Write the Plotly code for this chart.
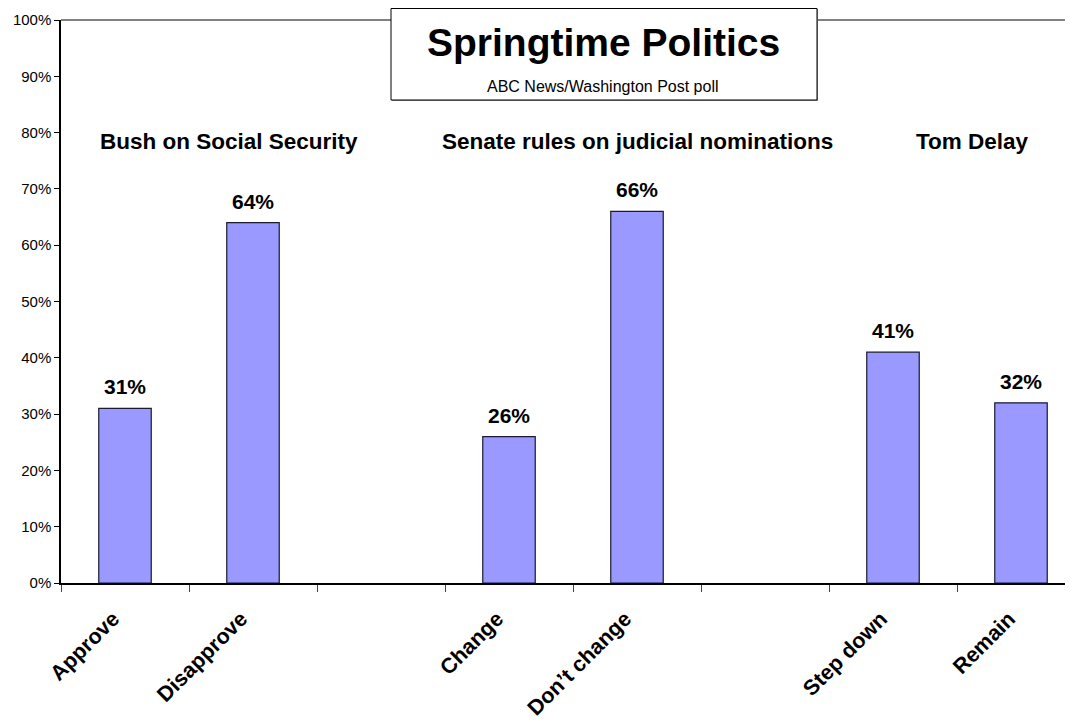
import plotly.graph_objects as go

categories = ["Approve", "Disapprove", " ", "Change", "Don\u2019t change", "  ", "Step down", "Remain"]
values = [31, 64, None, 26, 66, None, 41, 32]
group_labels = ["Bush on Social Security", "Senate rules on judicial nominations", "Tom Delay"]
group_pos = [0.81, 4.0, 6.62]
y_ticks = list(range(0, 101, 10))
y_tick_text = [f"{v}%" for v in y_ticks]
title = "Springtime Politics"
subtitle = "ABC News/Washington Post poll"

FONT = "Arial, 'Liberation Sans', sans-serif"
PW, PH = 1012, 563  # plot area size in px

fig = go.Figure()
fig.add_trace(go.Bar(
    x=categories, y=values,
    width=0.41,
    marker=dict(color="#9999FF", line=dict(color="#1a1a33", width=1.2)),
    cliponaxis=False,
))

for c, v in zip(categories, values):
    if v is None:
        continue
    fig.add_annotation(x=c, y=v, xref="x", yref="y", text=f"<b>{v}%</b>",
                       showarrow=False, font=dict(family=FONT, size=21, color="black"),
                       xanchor="center", yanchor="bottom", yshift=8)

for lab, pos in zip(group_labels, group_pos):
    fig.add_annotation(x=pos, y=78.5, xref="x", yref="y", text=f"<b>{lab}</b>",
                       showarrow=False, font=dict(family=FONT, size=22.5, color="black"),
                       xanchor="center", yanchor="middle")

# top border line
fig.add_shape(type="line", xref="paper", yref="paper", x0=0, x1=1, y0=1, y1=1,
              line=dict(color="#808080", width=2), layer="below")
# title box shadow + box
fig.add_shape(type="rect", xref="paper", yref="paper",
              x0=(392 - 61) / PW, x1=(818 - 61) / PW,
              y0=1 - 81 / PH, y1=1 + 11 / PH,
              line=dict(width=0), fillcolor="#909090", layer="above")
fig.add_shape(type="rect", xref="paper", yref="paper",
              x0=(391 - 61) / PW, x1=(817 - 61) / PW,
              y0=1 - 80 / PH, y1=1 + 11.5 / PH,
              line=dict(color="black", width=1), fillcolor="white", layer="above")
fig.add_annotation(xref="paper", yref="paper", x=(603 - 61) / PW, y=1 - 22 / PH,
                   text=f"<b>{title}</b>", showarrow=False,
                   font=dict(family=FONT, size=39, color="black"), yanchor="middle")
fig.add_annotation(xref="paper", yref="paper", x=(603 - 61) / PW, y=1 - 66 / PH,
                   text=subtitle, showarrow=False,
                   font=dict(family=FONT, size=16, color="black"), yanchor="middle")

fig.update_layout(
    width=1065, height=714,
    margin=dict(l=53, r=0, t=12, b=139, pad=0, autoexpand=False),
    paper_bgcolor="white", plot_bgcolor="white",
    showlegend=False,
    font=dict(family=FONT, color="black"),
)
fig.update_xaxes(
    type="category", categoryorder="array", categoryarray=categories,
    range=[-0.5, -0.5 + PW / 128],
    tickson="boundaries", ticks="outside", ticklen=7, tickcolor="#444444",
    tickangle=-45, tickfont=dict(family=FONT, size=21.5, color="black"),
    ticklabelstandoff=13, ticklabelshift=-12,
    showline=True, linecolor="black", linewidth=1.5,
    showgrid=False, zeroline=False, automargin=False,
    tickprefix="<b>", ticksuffix="</b>",
)
fig.update_yaxes(
    range=[0, 100], tickmode="array", tickvals=y_ticks, ticktext=y_tick_text,
    ticks="outside", ticklen=5, tickcolor="black",
    tickfont=dict(family=FONT, size=15, color="black"),
    showline=True, linecolor="black", linewidth=1.5,
    showgrid=False, zeroline=False, automargin=False,
)

fig.write_html("out.html")
